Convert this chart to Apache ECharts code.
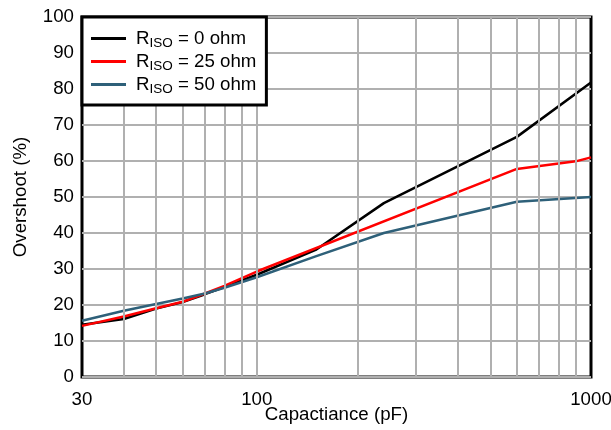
<!DOCTYPE html>
<html>
<head>
<meta charset="utf-8">
<script src="https://cdn.jsdelivr.net/npm/echarts@6/dist/echarts.min.js"></script>
<style>
  html, body { margin: 0; padding: 0; background: #fff; }
  #chart { width: 611px; height: 430px; }
</style>
</head>
<body>
<div id="chart"></div>
<script>
// R_ISO values for the three curves
const rIso = [0, 25, 50]
const lineColors = ['#000000', '#ff0000', '#2e6079']

// capacitance (pF) / overshoot (%)
const cap0 = [30, 40, 50, 60, 70, 80, 100, 150, 240, 600, 1000]
const over0 = [14.5, 16.1, 19.0, 20.8, 23.0, 25.0, 28.4, 35.3, 48.3, 66.7, 81.8]
const cap25 = [30, 40, 50, 60, 70, 80, 100, 600, 900, 1000]
const over25 = [14.2, 16.8, 19.1, 20.9, 23.2, 25.3, 29.3, 57.8, 59.9, 61.0]
const cap50 = [30, 40, 50, 60, 70, 80, 100, 150, 240, 600, 1000]
const over50 = [15.6, 18.4, 20.3, 21.8, 23.2, 24.8, 27.7, 33.5, 40.0, 48.7, 50.0]

const xTickLabels = [30, 100, 1000]
const xGridValues = [40, 50, 60, 70, 80, 90, 100, 200, 300, 400, 500, 600, 700, 800, 900]

const gridGray = '#b0b0b0'
const font = 'Liberation Sans, Arial, sans-serif'
const fs = 18.7

const pairs = (xs, ys) => xs.map((x, i) => [x, ys[i]])
const curves = [pairs(cap0, over0), pairs(cap25, over25), pairs(cap50, over50)]

const chart = echarts.init(document.getElementById('chart'), null, { renderer: 'canvas' })

const lineSeries = curves.map((data, i) => ({
  name: 'R' + rIso[i],
  type: 'line',
  data,
  symbol: 'none',
  z: 3,
  lineStyle: { color: lineColors[i], width: 2.5 },
  itemStyle: { color: lineColors[i] }
}))

chart.setOption({
  animation: false,
  textStyle: { fontFamily: font },
  grid: {
    left: 82, right: 20, top: 17, bottom: 53,
    outerBoundsMode: 'none',
    containLabel: false,
    show: true, borderColor: '#000', borderWidth: 3
  },
  legend: {
    left: 82, top: 17,
    z: 20,
    orient: 'vertical',
    padding: [10, 10, 9, 9],
    itemGap: 0,
    itemWidth: 35,
    itemHeight: 3,
    icon: 'rect',
    borderColor: '#000',
    borderWidth: 3,
    backgroundColor: '#fff',
    data: lineSeries.map(s => s.name),
    formatter: name => '{r|R}{s|ISO}{t| = ' + name.slice(1) + ' ohm}',
    textStyle: {
      rich: {
        r: { fontSize: fs, color: '#000', fontFamily: font, lineHeight: 21, padding: [0, 0, 0, 5] },
        s: { fontSize: 13.5, color: '#000', fontFamily: font, lineHeight: 21, padding: [9, 0, 0, 0] },
        t: { fontSize: fs, color: '#000', fontFamily: font, lineHeight: 21 }
      }
    }
  },
  xAxis: {
    type: 'log',
    min: 30,
    max: 1000,
    name: 'Capactiance (pF)',
    nameLocation: 'middle',
    nameMoveOverlap: false,
    nameGap: 28,
    nameTextStyle: { fontSize: fs, color: '#000' },
    axisLine: { show: false },
    axisTick: { show: false },
    splitLine: { show: false },
    axisLabel: {
      customValues: xTickLabels,
      fontSize: fs, color: '#000', margin: 13,
      formatter: v => String(Math.round(v))
    }
  },
  yAxis: {
    type: 'value',
    min: 0,
    max: 100,
    interval: 10,
    name: 'Overshoot (%)',
    nameLocation: 'middle',
    nameMoveOverlap: false,
    nameGap: 52,
    nameTextStyle: { fontSize: fs, color: '#000' },
    axisLine: { show: false },
    axisTick: { show: false },
    axisLabel: { fontSize: fs, color: '#000', margin: 8 },
    splitLine: { lineStyle: { color: gridGray, width: 2 } }
  },
  series: [
    {
      name: 'grid',
      type: 'line',
      data: [],
      z: 1,
      silent: true,
      markLine: {
        silent: true,
        symbol: 'none',
        label: { show: false },
        lineStyle: { color: gridGray, width: 2, type: 'solid' },
        data: xGridValues.map(v => ({ xAxis: v }))
      }
    },
    ...lineSeries
  ]
})
</script>
</body>
</html>
